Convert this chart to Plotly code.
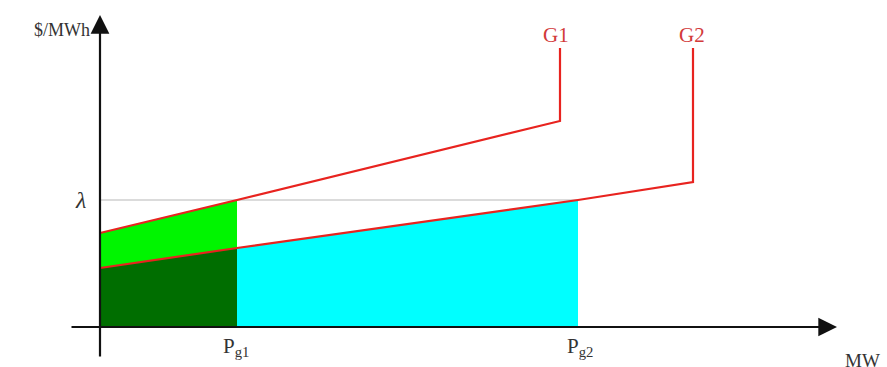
import plotly.graph_objects as go

# Data (schematic units: MW on x, $/MWh on y)
pg1 = 137
pg2 = 478
lam = 127
g1_x = [0, pg1, 460, 460]
g1_y = [94, lam, 206, 279]
g2_x = [0, pg1, pg2, 593, 593]
g2_y = [59, 79, lam, 145, 279]

RED = "#e8231f"
fig = go.Figure()

# dark green: G2 cost area up to Pg1
fig.add_trace(go.Scatter(x=[0, 0, pg1, pg1], y=[0, g2_y[0], g2_y[1], 0], fill="toself",
                         fillcolor="#006e00", line=dict(width=0), mode="lines", hoverinfo="skip"))
# bright green: between G2 and G1 up to Pg1
fig.add_trace(go.Scatter(x=[0, 0, pg1, pg1], y=[g2_y[0], g1_y[0], g1_y[1], g2_y[1]], fill="toself",
                         fillcolor="#00f500", line=dict(width=0), mode="lines", hoverinfo="skip"))
# cyan: under G2 from Pg1 to Pg2
fig.add_trace(go.Scatter(x=[pg1, pg1, pg2, pg2], y=[0, g2_y[1], g2_y[2], 0], fill="toself",
                         fillcolor="#00ffff", line=dict(width=0), mode="lines", hoverinfo="skip"))
# lambda line
fig.add_trace(go.Scatter(x=[0, pg2], y=[lam, lam], mode="lines",
                         line=dict(color="#b8b8b8", width=1.2), hoverinfo="skip"))
# G1 and G2 curves
fig.add_trace(go.Scatter(x=g1_x, y=g1_y, mode="lines", line=dict(color=RED, width=2.2), hoverinfo="skip"))
fig.add_trace(go.Scatter(x=g2_x, y=g2_y, mode="lines", line=dict(color=RED, width=2.2), hoverinfo="skip"))

ann = []
# axes arrows
ann.append(dict(x=0, y=312, ax=0, ay=-31, xref="x", yref="y", axref="x", ayref="y",
                showarrow=True, arrowhead=2, arrowsize=1.7, arrowwidth=2.2, arrowcolor="#111", text=""))
ann.append(dict(x=737, y=0, ax=-30, ay=0, xref="x", yref="y", axref="x", ayref="y",
                showarrow=True, arrowhead=2, arrowsize=1.7, arrowwidth=2.2, arrowcolor="#111", text=""))

font = "Liberation Serif"
def label(x, y, text, color="#333333", size=20, xanchor="center"):
    ann.append(dict(x=x, y=y, xref="x", yref="y", text=text, showarrow=False,
                    font=dict(family=font, size=size, color=color), xanchor=xanchor, yanchor="middle"))

label(-8, 297, "$/MWh", size=18, xanchor="right")
label(-20, lam, "<i>λ</i>", size=24)
label(456, 292, "G1", color="#d23a3a", size=21)
label(592, 292, "G2", color="#d23a3a", size=21)
label(pg1 - 1, -20, "P<sub>g1</sub>", size=21)
label(pg2 + 2, -20, "P<sub>g2</sub>", size=21)
label(743, -33, "MW", size=19, xanchor="left")

fig.update_layout(
    width=887, height=367, margin=dict(l=0, r=0, t=0, b=0),
    paper_bgcolor="white", plot_bgcolor="white", showlegend=False,
    xaxis=dict(range=[-100, 787], visible=False, fixedrange=True),
    yaxis=dict(range=[-40, 327], visible=False, fixedrange=True),
    annotations=ann,
)
fig.write_html("out.html", config={"displayModeBar": False},
               post_script="document.body.style.margin='0';document.body.style.overflow='hidden';")
